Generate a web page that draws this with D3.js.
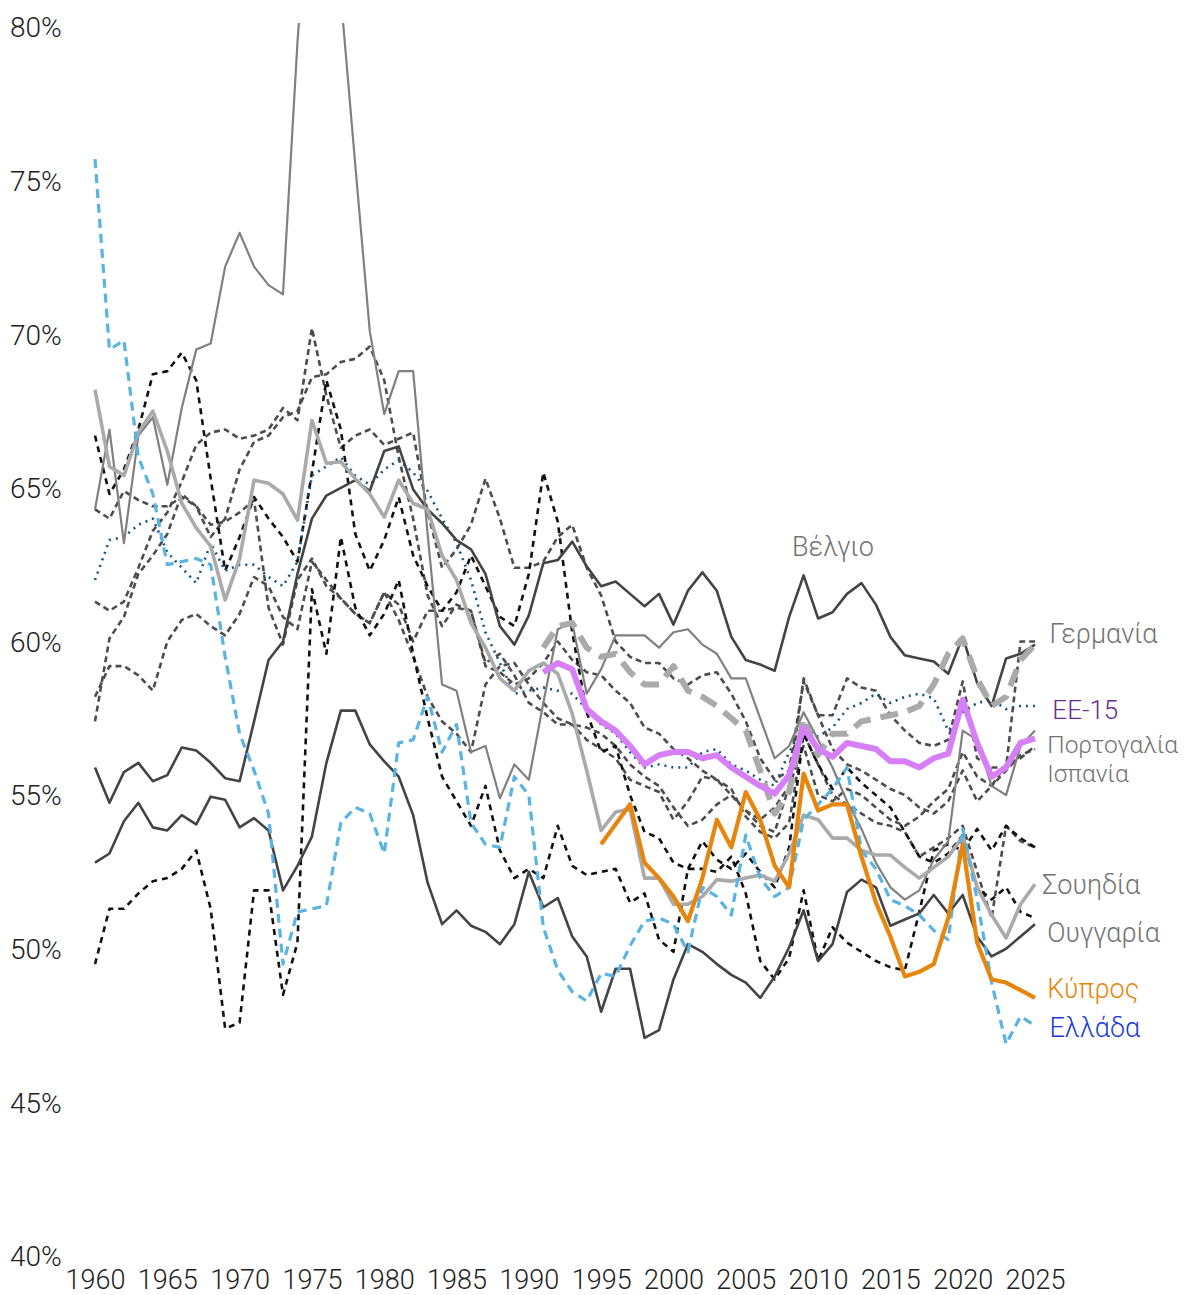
<!DOCTYPE html>
<html>
<head>
<meta charset="utf-8">
<script src="https://cdn.jsdelivr.net/npm/d3@7"></script>
<style>
  body { margin: 0; background: #fff; }
  text { font-family: Roboto, "Liberation Sans", sans-serif; font-weight: 300; }
</style>
</head>
<body>
<div id="container"></div>
<script>
/* CONSTANTS */
const width = 1196,
  height = 1295;

/* DATA (labour share, %) */
const yearsFull = d3.range(1960, 2026);
const years1991 = d3.range(1991, 2026);
const years1995 = d3.range(1995, 2026);

const greece = [75.7, 69.5, 69.8, 66.0, 64.8, 62.5, 62.6, 62.7, 62.5, 59.5,
  57.0, 55.8, 54.4, 49.5, 51.2, 51.3, 51.4, 54.1, 54.6, 54.4,
  53.1, 56.7, 56.8, 58.2, 56.4, 57.3, 54.1, 53.4, 53.3, 55.6,
  55.0, 50.7, 49.3, 48.6, 48.3, 49.2, 49.1, 50.1, 50.9, 51.0,
  50.8, 49.9, 52.0, 51.7, 51.1, 53.7, 52.3, 51.7, 52.0, 54.2,
  54.7, 55.2, 55.9, 53.2, 52.6, 51.6, 51.4, 51.1, 50.6, 50.3,
  53.9, 51.6, 48.9, 46.9, 47.8, 47.5];

const cyprus = [53.4, 54.05, 54.7, 52.8, 52.3, 51.7, 50.9, 52.3, 54.2, 53.3,
  55.1, 54.2, 52.7, 52.0, 55.7, 54.5, 54.7, 54.7, 53.0, 51.5,
  50.4, 49.1, 49.25, 49.5, 51.0, 53.4, 50.2, 49.0, 48.9, 48.65, 48.4];

const eu15 = [59.0, 59.3, 59.1, 57.8, 57.4, 57.1, 56.6, 56.0, 56.3, 56.4,
  56.4, 56.2, 56.3, 55.9, 55.6, 55.3, 55.05, 55.65, 57.2, 56.5,
  56.25, 56.7, 56.6, 56.5, 56.1, 56.1, 55.9, 56.2, 56.35, 58.1,
  56.7, 55.6, 55.9, 56.7, 56.85];

const germany = [59.8, 60.5, 60.6, 59.8, 59.5, 59.6, 59.0, 58.6, 58.6, 59.2,
  58.4, 58.2, 57.9, 57.5, 57.1, 55.8, 54.4, 55.1, 57.5, 56.3,
  57.0, 57.0, 57.4, 57.5, 57.6, 57.7, 57.9, 58.6, 59.6, 60.1,
  58.8, 57.9, 58.2, 59.4, 59.9];

const belgium = [55.9, 54.75, 55.75, 56.05, 55.45, 55.65, 56.55, 56.45, 56.05, 55.55,
  55.45, 57.4, 59.4, 60.0, 62.2, 64.0, 64.75, 65.0, 65.25, 64.9,
  66.2, 66.35, 64.95, 64.3, 63.85, 63.3, 63.0, 62.2, 60.5, 59.9,
  60.85, 62.55, 62.65, 63.25, 62.45, 61.8, 61.95, 61.55, 61.15, 61.55,
  60.55, 61.65, 62.25, 61.65, 60.15, 59.4, 59.25, 59.05, 60.8, 62.15,
  60.75, 60.95, 61.55, 61.9, 61.2, 60.15, 59.55, 59.45, 59.35, 58.95,
  60.15, 58.65, 57.9, 59.45, 59.6, 59.9];

const hungary = [52.8, 53.1, 54.15, 54.75, 53.95, 53.85, 54.35, 54.05, 54.95, 54.85,
  53.95, 54.25, 53.85, 51.9, 52.7, 53.65, 56.05, 57.75, 57.75, 56.65,
  56.1, 55.6, 54.35, 52.15, 50.8, 51.25, 50.75, 50.55, 50.15, 50.8,
  52.5, 51.35, 51.65, 50.4, 49.75, 47.95, 49.35, 49.35, 47.1, 47.35,
  49.0, 50.15, 49.9, 49.5, 49.15, 48.9, 48.4, 49.1, 50.05, 51.25,
  49.6, 50.15, 51.85, 52.25, 52.0, 50.75, 50.95, 51.15, 51.75, 51.15,
  51.75, 50.4, 49.75, 50.0, 50.4, 50.8];

const portugal = [64.3, 66.9, 63.2, 66.7, 67.3, 65.1, 67.6, 69.5, 69.7, 72.2,
  73.3, 72.2, 71.6, 71.3, 79.5, 86.0, 84.0, 81.0, 75.5, 70.1,
  67.4, 68.8, 68.8, 63.5, 58.6, 58.4, 56.4, 56.6, 54.9, 56.0,
  55.5, 58.0, 60.4, 60.6, 58.3, 59.1, 60.2, 60.2, 60.2, 59.8,
  60.3, 60.4, 59.9, 59.6, 58.8, 58.8, 57.5, 56.2, 56.6, 57.7,
  56.8, 55.9, 54.8, 53.9, 52.8, 52.0, 51.6, 51.9, 52.9, 53.5,
  57.1, 56.8, 55.3, 55.0, 56.6, 57.1];

const sweden = [68.2, 65.7, 65.4, 66.8, 67.5, 66.2, 64.5, 63.7, 63.1, 61.35,
  62.7, 65.25, 65.15, 64.8, 63.95, 67.2, 65.8, 65.85, 65.3, 64.8,
  64.05, 65.25, 64.5, 64.3, 62.8, 62.0, 60.6, 59.8, 58.8, 58.4,
  59.05, 59.3, 58.95, 57.65, 55.8, 53.85, 54.45, 54.55, 52.3, 52.3,
  51.45, 51.45, 51.7, 52.25, 52.2, 52.3, 52.4, 52.2, 53.1, 54.35,
  54.2, 53.6, 53.6, 53.2, 53.05, 53.05, 52.65, 52.3, 52.65, 53.0,
  53.65, 52.0, 51.1, 50.35, 51.45, 52.1];

const spain = [57.4, 60.1, 60.8, 62.2, 62.8, 63.5, 64.8, 64.4, 63.4, 64.0,
  65.6, 66.5, 66.7, 67.3, 67.5, 68.6, 68.7, 69.1, 69.2, 69.6,
  68.5, 66.0, 64.0, 61.5, 60.5, 61.2, 61.0, 59.2, 59.0, 58.6,
  58.8, 59.3, 60.0, 59.4, 59.0, 58.9, 58.4, 58.0, 57.2, 57.0,
  56.5, 56.2, 55.8, 55.5, 55.0, 54.5, 54.0, 53.8, 55.3, 58.8,
  57.6, 56.5, 56.0, 55.8, 55.5, 55.2, 55.0, 54.6, 54.4, 54.8,
  55.8, 54.8, 55.3, 56.0, 56.2, 56.6];

const countryA = [66.7, 64.8, 65.6, 66.9, 68.7, 68.8, 69.4, 68.5, 65.3, 62.3,
  63.4, 64.7, 64.0, 63.4, 62.6, 65.5, 68.5, 66.9, 63.5, 62.3,
  63.3, 64.7, 62.8, 61.8, 61.0, 61.6, 62.8, 61.8, 60.8, 60.5,
  62.2, 65.5, 63.9, 60.3, 57.7, 56.4, 56.6, 55.0, 53.8, 53.6,
  52.8, 52.6, 53.5, 52.9, 52.6, 53.1, 52.5, 52.0, 53.3, 57.0,
  56.0, 55.2, 55.9, 55.4, 55.0, 54.6, 53.8, 53.0, 52.8, 53.1,
  53.7, 52.0, 51.6, 52.0, 51.2, 51.0];

const countryB = [49.5, 51.3, 51.3, 51.8, 52.2, 52.3, 52.6, 53.2, 51.3, 47.4,
  47.6, 51.9, 51.9, 48.5, 50.2, 61.7, 59.6, 63.4, 61.1, 60.2,
  60.9, 62.0, 59.6, 57.5, 55.6, 54.8, 54.0, 55.3, 53.2, 52.3,
  52.6, 52.3, 54.0, 52.7, 52.4, 52.5, 52.6, 51.5, 51.8, 50.3,
  49.9, 52.6, 52.6, 52.5, 53.0, 51.8, 49.6, 49.0, 49.7, 51.9,
  49.6, 50.7, 50.2, 49.9, 49.6, 49.4, 49.3, 51.2, 53.2, 53.4,
  53.2, 53.9, 53.2, 54.0, 53.6, 53.3];

const countryC = [64.3, 64.0, 64.9, 64.6, 64.4, 64.4, 64.7, 64.4, 63.8, 63.9,
  64.2, 64.6, 61.1, 59.9, 62.0, 62.7, 61.8, 61.4, 60.9, 60.6,
  61.6, 61.2, 60.0, 61.0, 61.0, 61.1, 61.0, 59.3, 59.6, 58.9,
  58.0, 57.7, 57.3, 57.3, 56.8, 56.5, 56.2, 55.5, 55.3, 55.1,
  54.2, 54.8, 55.6, 55.5, 55.2, 54.3, 53.8, 53.6, 54.1, 57.0,
  56.0, 55.0, 54.7, 54.4, 54.1, 54.0, 53.8, 53.0, 53.3, 53.6,
  54.0, 52.5, 51.0, 54.0, 53.5, 53.3];

const countryD = [61.3, 61.0, 61.3, 62.4, 63.6, 64.2, 65.2, 66.4, 66.8, 66.9,
  66.6, 66.7, 66.9, 67.6, 67.2, 70.2, 68.0, 66.3, 66.7, 66.9,
  66.4, 66.6, 66.8, 64.2, 62.4, 63.0, 63.8, 65.3, 64.0, 62.4,
  62.4, 62.6, 63.4, 63.8, 62.4, 61.5, 60.0, 59.5, 59.3, 59.3,
  58.8, 58.6, 58.9, 59.0, 58.3, 57.4, 56.2, 55.5, 55.8, 58.7,
  57.6, 57.6, 58.8, 58.5, 58.4, 57.6, 57.1, 56.7, 56.6, 56.8,
  58.7, 56.2, 55.9, 55.9, 60.0, 60.0];

const countryE = [58.2, 59.2, 59.2, 58.9, 58.4, 60.0, 60.7, 60.9, 60.5, 60.2,
  60.9, 62.1, 61.8, 60.8, 60.4, 62.6, 62.0, 61.4, 60.9, 60.6,
  61.6, 60.7, 59.5, 58.2, 57.4, 57.0, 56.4, 58.6, 59.2, 59.3,
  58.6, 58.0, 57.5, 57.3, 57.2, 57.0, 56.6, 56.0, 55.6, 55.3,
  54.6, 54.0, 54.2, 54.7, 55.0, 54.5, 54.2, 54.6, 55.3, 56.6,
  55.0, 54.8, 55.2, 55.0, 54.6, 54.2, 54.0, 54.3, 54.8, 55.2,
  56.4, 55.6, 55.3, 55.8, 56.3, 56.5];

const countryF = [62.0, 63.3, 63.4, 63.8, 64.0, 62.9, 62.4, 61.9, 63.2, 62.3,
  62.5, 62.5, 62.1, 61.8, 62.6, 65.4, 65.7, 66.0, 65.4, 65.1,
  65.6, 65.9, 65.5, 64.9, 64.0, 63.2, 62.0, 60.3, 59.3, 58.3,
  58.4, 58.5, 58.4, 58.3, 57.8, 57.3, 57.0, 56.4, 55.9, 56.0,
  55.9, 55.9, 56.4, 56.5, 56.0, 55.8, 55.5, 55.3, 56.4, 57.2,
  56.9, 57.2, 57.8, 58.0, 58.3, 58.0, 58.2, 58.3, 58.15, 57.1,
  57.7, 58.0, 58.1, 57.8, 57.9, 57.9];

const yTicks = [40, 45, 50, 55, 60, 65, 70, 75, 80];
const xTicks = d3.range(1960, 2026, 5);

// end labels: text, level (%) and left edge (year)
const labels = [
  { text: "Βέλγιο", level: 63.1, year: 2008.2, size: 27, color: "#737373" },
  { text: "Γερμανία", level: 60.27, year: 2026, size: 27, color: "#737373" },
  { text: "ΕΕ-15", level: 57.77, year: 2026.2, size: 26, color: "#6a2a90" },
  { text: "Πορτογαλία", level: 56.65, year: 2025.85, size: 24.5, color: "#737373" },
  { text: "Ισπανία", level: 55.72, year: 2025.85, size: 24.5, color: "#737373" },
  { text: "Σουηδία", level: 52.1, year: 2025.5, size: 27, color: "#737373" },
  { text: "Ουγγαρία", level: 50.54, year: 2025.85, size: 27, color: "#737373" },
  { text: "Κύπρος", level: 48.72, year: 2025.85, size: 27, color: "#e8850c" },
  { text: "Ελλάδα", level: 47.45, year: 2026, size: 27, color: "#1a3adb" }
];

/* STYLES */
const blackDash = { stroke: "#111", width: 2.6, dash: "6,5" },
  greyDash = { stroke: "#4d4d4d", width: 2.6, dash: "6,4" };

// drawing order: back to front
const series = [
  { years: yearsFull, values: countryE, style: greyDash },
  { years: yearsFull, values: countryC, style: greyDash },
  { years: yearsFull, values: countryD, style: greyDash },
  { years: yearsFull, values: spain, style: greyDash },
  { years: yearsFull, values: countryA, style: blackDash },
  { years: yearsFull, values: countryB, style: blackDash },
  { years: yearsFull, values: countryF, style: { stroke: "#15557f", width: 2.6, dash: "2,5" } },
  { years: yearsFull, values: hungary, style: { stroke: "#444", width: 2.6 } },
  { years: yearsFull, values: belgium, style: { stroke: "#444", width: 2.6 } },
  { years: yearsFull, values: portugal, style: { stroke: "#808080", width: 2.2 } },
  { years: yearsFull, values: sweden, style: { stroke: "#aaaaaa", width: 3.6 } },
  { years: years1991, values: germany, style: { stroke: "#aaaaaa", width: 6, dash: "18,10" } },
  { years: yearsFull, values: greece, style: { stroke: "#5ab4e3", width: 3.2, dash: "9,6" } },
  { years: years1991, values: eu15, style: { stroke: "#d67ff7", width: 6 } },
  { years: years1995, values: cyprus, style: { stroke: "#e8850c", width: 4.2 } }
];

/* SCALES */
const xScale = d3.scaleLinear().domain([1960, 2025]).range([95, 1035]);
const yScale = d3.scaleLinear().domain([40, 80]).range([1256, 27]);

const svg = d3.select("#container")
  .append("svg")
  .attr("width", width)
  .attr("height", height);

svg.append("defs").append("clipPath")
  .attr("id", "plot-clip")
  .append("rect")
  .attr("x", 0)
  .attr("y", yScale(80) - 4)
  .attr("width", width)
  .attr("height", height);

/* AXES */
const yAxis = d3.axisLeft(yScale).tickValues(yTicks).tickSize(0).tickFormat(d => d + "%");
const gy = svg.append("g").call(yAxis);
gy.select(".domain").remove();
gy.selectAll("text")
  .attr("x", 10)
  .attr("text-anchor", "start")
  .attr("dy", "0.35em")
  .style("font-size", "28px")
  .style("fill", "#222");

const xAxis = d3.axisBottom(xScale).tickValues(xTicks).tickSize(0).tickFormat(d3.format("d"));
const gx = svg.append("g")
  .attr("transform", `translate(0, ${1267})`)
  .call(xAxis);
gx.select(".domain").remove();
gx.selectAll("text")
  .style("font-size", "27px")
  .style("fill", "#222");

/* LINES */
const line = d3.line()
  .x(d => xScale(d[0]))
  .y(d => yScale(d[1]));

svg.append("g")
  .attr("clip-path", "url(#plot-clip)")
  .selectAll("path")
  .data(series)
  .join("path")
  .attr("d", s => line(s.years.map((yr, i) => [yr, s.values[i]])))
  .attr("fill", "none")
  .attr("stroke", s => s.style.stroke)
  .attr("stroke-width", s => s.style.width)
  .attr("stroke-dasharray", s => s.style.dash || null)
  .attr("stroke-linejoin", "round");

/* LABELS */
svg.append("g")
  .selectAll("text")
  .data(labels)
  .join("text")
  .attr("x", d => xScale(d.year))
  .attr("y", d => yScale(d.level))
  .attr("dy", "0.35em")
  .style("font-size", d => d.size + "px")
  .style("fill", d => d.color)
  .text(d => d.text);
</script>
</body>
</html>
